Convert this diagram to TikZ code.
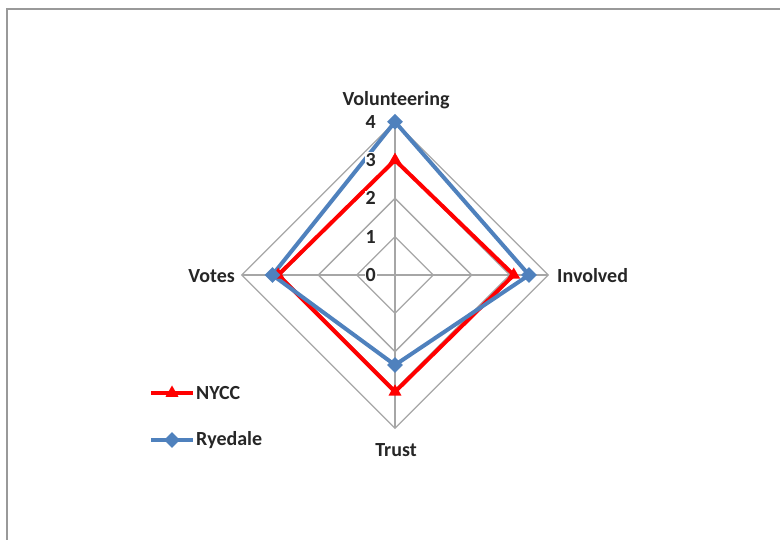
\documentclass[tikz,border=0pt]{standalone}
\usepackage{fontspec}
\setmainfont{Carlito}
\usetikzlibrary{shapes.geometric}
\definecolor{gridgray}{HTML}{A6A6A6}
\definecolor{framegray}{HTML}{999999}
\definecolor{ryblue}{HTML}{4F81BD}
\definecolor{nyred}{HTML}{FF0000}
\begin{document}
\begin{tikzpicture}[x=1pt,y=-1pt,
  gridline/.style={draw=gridgray,line width=1.3pt},
  lbl/.style={font=\bfseries\fontsize{20}{20}\selectfont,text=black!85,inner sep=1pt},
  vallbl/.style={font=\bfseries\fontsize{20}{20}\selectfont,text=black!85,fill=white,inner sep=1pt,anchor=east},
  nyline/.style={draw=nyred,line width=4pt,line join=round},
  ryline/.style={draw=ryblue,line width=4pt,line join=round},
  trimark/.style={regular polygon,regular polygon sides=3,fill=nyred,minimum size=15pt,inner sep=0pt},
  diamark/.style={diamond,fill=ryblue,minimum size=16pt,inner sep=0pt}]
\useasboundingbox (0,0) rectangle (780,540);
\draw[framegray,line width=2pt] (7,540) -- (7,9) -- (780,9);
\def\u{38.3}
\coordinate (C) at (395,275);
% grid rings
\foreach \k in {1,2,3,4}{
  \draw[gridline] (395,{275-\k*\u}) -- ({395+\k*\u},275) -- (395,{275+\k*\u}) -- ({395-\k*\u},275) -- cycle;
}
\coordinate (Ntop) at (395,{275-4*\u});
\coordinate (Nbot) at (395,{275+4*\u});
\coordinate (Nleft) at ({395-4*\u},275);
\coordinate (Nright) at ({395+4*\u},275);
\draw[gridline] (Ntop) -- (Nbot);
\draw[gridline] (Nleft) -- (Nright);
% data points
\coordinate (n1) at (395,{275-3*\u});
\coordinate (n2) at ({395+3.1*\u},275);
\coordinate (n3) at (395,{275+3.05*\u});
\coordinate (n4) at ({395-3.05*\u},275);
\coordinate (r1) at (395,{275-4*\u});
\coordinate (r2) at ({395+3.5*\u},275);
\coordinate (r3) at (395,{275+2.35*\u});
\coordinate (r4) at ({395-3.2*\u},275);
\draw[nyline] (n1) -- (n2) -- (n3) -- (n4) -- cycle;
\draw[ryline] (r1) -- (r2) -- (r3) -- (r4) -- cycle;
\foreach \p in {n1,n2,n3,n4}{\node[trimark] at (\p) {};}
\foreach \p in {r1,r2,r3,r4}{\node[diamark] at (\p) {};}
% value labels
\foreach \k in {0,1,2,3,4}{
  \node[vallbl] (v\k) at (377,{275-\k*\u}) {\k};
}
% axis labels
\node[lbl] (volunteering) at (396,100) {Volunteering};
\node[lbl,anchor=west] (involved) at (556,276) {Involved};
\node[lbl] (trust) at (396,450) {Trust};
\node[lbl,anchor=east] (votes) at (236,276) {Votes};
% legend
\coordinate (la) at (151,393);
\coordinate (lb) at (193,393);
\coordinate (lc) at (151,440);
\coordinate (ld) at (193,440);
\draw[nyline] (la) -- (lb);
\node[trimark] (lm1) at (172,393) {};
\node[lbl,anchor=west] (lnycc) at (195,393) {NYCC};
\draw[ryline] (lc) -- (ld);
\node[diamark] (lm2) at (172,440) {};
\node[lbl,anchor=west] (lryedale) at (195,440) {Ryedale};
\end{tikzpicture}
\end{document}
